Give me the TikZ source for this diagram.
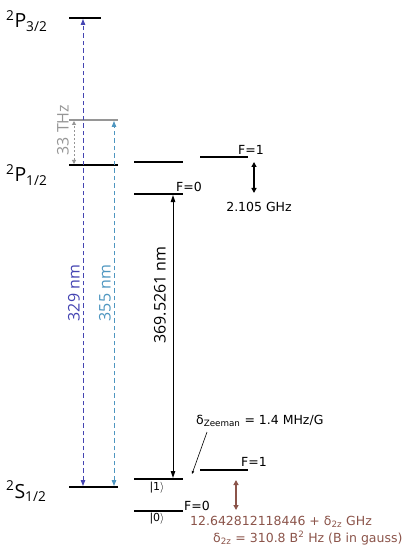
\documentclass[tikz,border=0pt]{standalone}
\usepackage{fontspec}
\setmainfont{DejaVu Sans}
\newfontfamily\seg{Open Sans}
\usetikzlibrary{arrows.meta}
\definecolor{purp}{RGB}{68,68,178}
\definecolor{lblue}{RGB}{78,150,192}
\definecolor{grey}{RGB}{150,150,150}
\definecolor{brn}{RGB}{139,84,74}
\tikzset{
  lvl/.style={line width=1.5pt},
  small/.style={font=\fontsize{12.5}{14}\selectfont, inner sep=0pt},
  big/.style={font=\seg\fontsize{19.5}{22}\selectfont, inner sep=0pt},
  rot/.style={font=\seg\fontsize{16}{18}\selectfont, rotate=90, inner sep=0pt},
  dsh/.style={dash pattern=on 4.5pt off 3pt, line width=1pt},
  dtip/.style={{Triangle[length=6pt,width=4.5pt]}-{Triangle[length=6pt,width=4.5pt]}},
}
\begin{document}
\begin{tikzpicture}[x=1pt,y=-1pt]
\useasboundingbox (0,0) rectangle (415,553);
% levels
\coordinate (p32a) at (69,18); \coordinate (p32b) at (101,18);
\draw[lvl] (p32a) -- (p32b);
\coordinate (va) at (69,120); \coordinate (vb) at (118,120);
\draw[lvl, grey] (va) -- (vb);
\coordinate (p12a) at (69,165); \coordinate (p12b) at (118,165);
\draw[lvl] (p12a) -- (p12b);
\coordinate (s12a) at (69,487); \coordinate (s12b) at (118,487);
\draw[lvl] (s12a) -- (s12b);
% P1/2 hyperfine
\coordinate (pua) at (134,162); \coordinate (pub) at (183,162);
\draw[lvl] (pua) -- (pub);
\coordinate (pfa) at (200,157); \coordinate (pfb) at (248,157);
\draw[lvl] (pfa) -- (pfb);
\coordinate (p0a) at (134,194); \coordinate (p0b) at (183,194);
\draw[lvl] (p0a) -- (p0b);
% S1/2 hyperfine
\coordinate (s1a) at (134,479); \coordinate (s1b) at (183,479);
\draw[lvl] (s1a) -- (s1b);
\coordinate (s0a) at (134,511); \coordinate (s0b) at (183,511);
\draw[lvl] (s0a) -- (s0b);
\coordinate (sfa) at (200,470); \coordinate (sfb) at (248,470);
\draw[lvl] (sfa) -- (sfb);
% level labels
\node[big, anchor=base west] (lp32) at (6,28) {\textsuperscript{2}P\textsubscript{3/2}};
\node[big, anchor=base west] (lp12) at (6,182) {\textsuperscript{2}P\textsubscript{1/2}};
\node[big, anchor=base west] (ls12) at (6,498) {\textsuperscript{2}S\textsubscript{1/2}};
\node[small] (f1p) at (251,150) {F=1};
\node[small] (f0p) at (189,187) {F=0};
\node[small] (f1s) at (254,462) {F=1};
\node[small] (f0s) at (197,506) {F=0};
\node[small, font=\fontsize{11}{12}\selectfont] (k1) at (157,488) {|1$\rangle$};
\node[small, font=\fontsize{11}{12}\selectfont] (k0) at (157,519) {|0$\rangle$};
% transitions
\coordinate (a329b) at (83,486); \coordinate (a329t) at (83,19);
\draw[dsh, purp, dtip] (a329b) -- (a329t);
\node[rot, purp] (l329) at (74,293) {329 nm};
\coordinate (a355b) at (114,486); \coordinate (a355t) at (114,121);
\draw[dsh, lblue, dtip] (a355b) -- (a355t);
\node[rot, lblue] (l355) at (105,293) {355 nm};
\coordinate (thzb) at (74,164); \coordinate (thzt) at (74,121);
\draw[grey, line width=1pt, dash pattern=on 2pt off 2pt, {Triangle[length=4pt,width=4pt]}-{Triangle[length=4pt,width=4pt]}] (thzb) -- (thzt);
\node[rot, grey] (lthz) at (63,130) {33 THz};
\coordinate (a369t) at (173,195); \coordinate (a369b) at (173,478);
\draw[line width=1pt, {Triangle[length=7pt,width=4.5pt]}-{Triangle[length=7pt,width=4.5pt]}] (a369t) -- (a369b);
\node[rot] (l369) at (160,295) {369.5261 nm};
\coordinate (ghzt) at (254,162); \coordinate (ghzb) at (254,193);
\draw[line width=1.5pt, {Triangle[length=5pt,width=5pt]}-{Triangle[length=5pt,width=5pt]}] (ghzt) -- (ghzb);
\node[small] (lghz) at (259,207) {2.105 GHz};
% Zeeman
\node[small, anchor=west] (lzee) at (196,421) {δ\textsubscript{Zeeman} = 1.4 MHz/G};
\coordinate (zt) at (207,432); \coordinate (zb) at (192,474);
\draw[line width=0.6pt, -{Triangle[length=3pt,width=2.5pt]}] (zt) -- (zb);
% hyperfine qubit
\coordinate (qt) at (236,480); \coordinate (qb) at (236,510);
\draw[brn, line width=1.2pt, {Triangle[length=5pt,width=5pt]}-{Triangle[length=5pt,width=5pt]}] (qt) -- (qb);
\node[small, brn, anchor=west] (lq1) at (190,522) {12.642812118446 + δ\textsubscript{2z} GHz};
\node[small, brn, anchor=west] (lq2) at (213,538) {δ\textsubscript{2z} = 310.8 B\textsuperscript{2} Hz (B in gauss)};
\end{tikzpicture}
\end{document}
